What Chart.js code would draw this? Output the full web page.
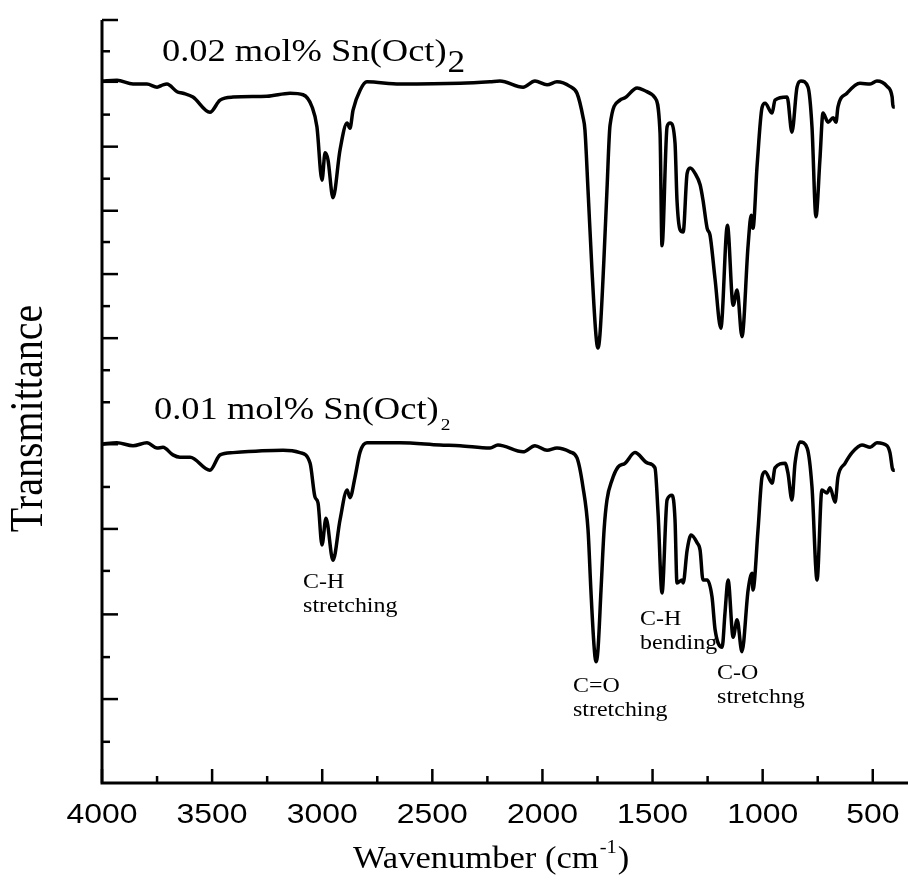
<!DOCTYPE html>
<html>
<head>
<meta charset="utf-8">
<script src="https://cdn.jsdelivr.net/npm/chart.js@4.4.0/dist/chart.umd.min.js"></script>
<style>
  html, body { margin: 0; padding: 0; background: #fff; }
  #wrap { width: 908px; height: 888px; }
</style>
</head>
<body>
<div id="wrap"><canvas id="ftir"></canvas></div>
<script>
// FTIR spectra, wavenumber in cm-1, transmittance in arbitrary (stacked) units 0..100
const wn002 = [4000, 3932, 3859, 3796, 3750, 3723, 3705, 3659, 3632, 3587, 3510, 3464, 3405, 3251, 3146, 3087,
  3046, 3024, 3001, 2987, 2974, 2951, 2919, 2887, 2874, 2860, 2828, 2797, 2647, 2374, 2238, 2193, 2088, 2034,
  1979, 1934, 1875, 1843, 1816, 1807, 1793, 1775, 1757, 1748, 1739, 1721, 1707, 1693, 1648, 1625, 1570, 1525,
  1489, 1466, 1457, 1434, 1420, 1398, 1389, 1375, 1361, 1343, 1329, 1307, 1284, 1271, 1252, 1239, 1216, 1190,
  1160, 1134, 1116, 1094, 1066, 1052, 1044, 1025, 1003, 989, 957, 944, 889, 867, 844, 826, 794, 776, 758, 740,
  726, 703, 680, 667, 658, 617, 558, 512, 481, 435, 412, 408, 400];
const tr002 = [92.0, 92.1, 91.6, 91.6, 91.2, 91.5, 91.6, 90.6, 90.4, 89.9, 87.9, 89.5, 89.9, 90.0, 90.4, 90.2,
  88.6, 86.0, 79.0, 82.6, 81.7, 76.7, 83.0, 86.5, 85.8, 88.2, 90.8, 91.9, 91.6, 91.7, 91.9, 92.0, 91.2, 92.0,
  91.5, 91.9, 91.3, 90.4, 87.3, 85.6, 77.7, 67.2, 58.7, 57.0, 58.7, 68.5, 77.7, 86.2, 89.5, 89.8, 91.1, 90.6,
  89.8, 85.2, 70.4, 86.0, 86.5, 83.9, 76.4, 72.5, 72.2, 79.9, 80.6, 79.9, 78.4, 76.4, 72.7, 71.8, 66.0, 59.6,
  73.1, 62.6, 64.6, 58.5, 70.5, 74.4, 72.7, 81.0, 88.5, 89.1, 87.8, 89.5, 89.9, 85.3, 91.2, 92.0, 91.2, 86.0, 74.2, 81.7,
  87.8, 86.6, 87.2, 86.6, 88.6, 90.4, 91.7, 91.6, 92.0, 91.3, 89.9, 88.6, 88.6];

const wn001 = [4000, 3932, 3859, 3796, 3750, 3723, 3678, 3646, 3600, 3510, 3464, 3405, 3178, 3101, 3055, 3033,
  3019, 3001, 2983, 2951, 2919, 2887, 2874, 2851, 2828, 2797, 2647, 2465, 2374, 2238, 2202, 2088, 2034, 1979,
  1934, 1875, 1843, 1816, 1793, 1780, 1766, 1757, 1748, 1734, 1720, 1707, 1684, 1657, 1625, 1580, 1520, 1489,
  1475, 1457, 1434, 1411, 1398, 1389, 1366, 1361, 1343, 1325, 1298, 1284, 1271, 1252, 1230, 1216, 1184, 1171,
  1157, 1134, 1116, 1094, 1066, 1048, 1044, 1021, 1003, 989, 957, 944, 898, 885, 867, 853, 830, 798, 776, 753,
  731, 708, 694, 671, 658, 626, 594, 549, 512, 481, 435, 422, 408, 400];
const tr001 = [44.4, 44.6, 44.2, 44.6, 43.9, 44.0, 43.0, 42.7, 42.7, 41.0, 43.0, 43.3, 43.6, 43.3, 41.9, 37.5,
  36.7, 31.2, 34.7, 29.2, 34.5, 38.4, 37.4, 40.1, 43.4, 44.6, 44.6, 44.3, 44.2, 43.9, 44.3, 43.4, 44.2, 43.6,
  43.9, 43.4, 42.6, 38.8, 33.2, 25.3, 18.1, 15.9, 17.4, 25.3, 33.2, 37.1, 39.7, 41.4, 41.9, 43.3, 41.9, 41.3,
  35.4, 24.9, 37.1, 37.7, 34.5, 26.2, 26.6, 26.2, 30.5, 32.5, 31.5, 30.5, 26.6, 26.6, 24.4, 20.1, 17.8, 22.3,
  26.6, 19.1, 21.4, 17.2, 25.3, 27.5, 25.3, 33.2, 40.1, 40.8, 39.3, 41.3, 41.9, 40.6, 37.1, 41.9, 44.7, 43.9, 38.8, 26.6,
  38.4, 38.0, 38.7, 36.8, 40.1, 41.9, 43.3, 44.3, 44.0, 44.6, 44.2, 43.3, 41.0, 41.0];

const xMajorTicks = [4000, 3500, 3000, 2500, 2000, 1500, 1000, 500];
const xMinorTicks = [3750, 3250, 2750, 2250, 1750, 1250, 750];
const yMajorTicks = [11.0, 22.1, 33.3, 44.4, 58.3, 66.7, 75.0, 83.4, 91.9, 100];
const yMinorTicks = [5.4, 16.5, 27.8, 38.8, 49.9, 54.1, 62.5, 70.9, 79.2, 87.6, 95.9];

const seriesNames = ['0.02 mol% Sn(Oct)', '0.01 mol% Sn(Oct)'];
const bandNames = [['C-H', 'stretching'], ['C=O', 'stretching'], ['C-H', 'bending'], ['C-O', 'stretchng']];

// where the text goes (wavenumber, transmittance of the first baseline)
const seriesAt = [[3728, 94.6], [3764, 47.7]];
const bandAt = [[3087, 25.6], [1861, 11.9], [1557, 20.7], [1207, 13.6]];

const toPoints = (xs, ys) => xs.map((x, i) => ({ x: x, y: ys[i] }));

const SERIF = '"Liberation Serif", "Times New Roman", serif';
const SANS = '"Liberation Sans", Arial, sans-serif';
const SX = 1.14; // reference text is a bit wide

function putText(ctx, str, px, py, font, align, sx) {
  ctx.save();
  ctx.translate(px, py);
  ctx.scale(sx, 1);
  ctx.font = font;
  ctx.textAlign = align;
  ctx.textBaseline = 'alphabetic';
  ctx.fillText(str, 0, 0);
  const w = ctx.measureText(str).width * sx;
  ctx.restore();
  return w;
}

const decor = {
  id: 'decor',
  afterDraw(chart) {
    const ctx = chart.ctx;
    const a = chart.chartArea;
    const x = chart.scales.x;
    const y = chart.scales.y;
    ctx.save();
    ctx.strokeStyle = '#000';
    ctx.fillStyle = '#000';

    // axes
    ctx.lineWidth = 3;
    ctx.lineJoin = 'miter';
    ctx.beginPath();
    ctx.moveTo(a.left, a.top);
    ctx.lineTo(a.left, a.bottom);
    ctx.lineTo(a.right, a.bottom);
    ctx.stroke();

    // inward ticks
    ctx.lineWidth = 2.5;
    const tick = (px, py, dx, dy) => {
      ctx.beginPath();
      ctx.moveTo(px, py);
      ctx.lineTo(px + dx, py + dy);
      ctx.stroke();
    };
    xMajorTicks.forEach(v => tick(x.getPixelForValue(v), a.bottom, 0, -14));
    xMinorTicks.forEach(v => tick(x.getPixelForValue(v), a.bottom, 0, -7));
    yMajorTicks.forEach(v => tick(a.left, y.getPixelForValue(v), 16, 0));
    yMinorTicks.forEach(v => tick(a.left, y.getPixelForValue(v), 8, 0));

    // tick labels
    xMajorTicks.forEach(v => {
      putText(ctx, String(v), x.getPixelForValue(v), a.bottom + 40, '28px ' + SANS, 'center', SX);
    });

    // axis titles
    const tx = (a.left + a.right) / 2 - 152;
    let w = putText(ctx, 'Wavenumber (cm', tx, 868, '32px ' + SERIF, 'left', 1.08);
    w += putText(ctx, '-1', tx + w + 1, 853, '19px ' + SERIF, 'left', 1.08);
    putText(ctx, ')', tx + w + 2, 868, '32px ' + SERIF, 'left', 1.08);

    ctx.save();
    ctx.translate(a.left - 60, (a.top + a.bottom) / 2 + 17);
    ctx.rotate(-Math.PI / 2);
    ctx.scale(1, SX);
    ctx.font = '40px ' + SERIF;
    ctx.textAlign = 'center';
    ctx.textBaseline = 'alphabetic';
    ctx.fillText('Transmittance', 0, 0);
    ctx.restore();

    // series labels with subscript 2
    const subs = [{ font: '31px ' + SERIF, dy: 11, gap: 1 }, { font: '17px ' + SERIF, dy: 11, gap: 2 }];
    seriesNames.forEach((name, i) => {
      const px = x.getPixelForValue(seriesAt[i][0]);
      const py = y.getPixelForValue(seriesAt[i][1]);
      const wm = putText(ctx, name, px, py, '32px ' + SERIF, 'left', SX);
      putText(ctx, '2', px + wm + subs[i].gap, py + subs[i].dy, subs[i].font, 'left', SX);
    });

    // band assignments
    bandNames.forEach((lines, i) => {
      const px = x.getPixelForValue(bandAt[i][0]);
      const py = y.getPixelForValue(bandAt[i][1]);
      lines.forEach((t, k) => putText(ctx, t, px, py + k * 24, '21px ' + SERIF, 'left', SX));
    });
    ctx.restore();
  }
};

new Chart(document.getElementById('ftir'), {
  type: 'line',
  data: {
    datasets: [
      { label: seriesNames[0] + '2', data: toPoints(wn002, tr002) },
      { label: seriesNames[1] + '2', data: toPoints(wn001, tr001) }
    ]
  },
  options: {
    responsive: true,
    maintainAspectRatio: false,
    animation: false,
    events: [],
    layout: { padding: { top: 20, right: 0, bottom: 0, left: 0 } },
    elements: {
      line: { borderColor: '#000', borderWidth: 3.5, cubicInterpolationMode: 'monotone', fill: false },
      point: { radius: 0 }
    },
    plugins: { legend: { display: false }, tooltip: { enabled: false } },
    scales: {
      x: {
        type: 'linear',
        reverse: true,
        min: 340,
        max: 4000,
        grid: { display: false },
        border: { display: false },
        ticks: { display: false },
        afterFit: s => { s.height = 105; }
      },
      y: {
        min: 0,
        max: 100,
        grid: { display: false },
        border: { display: false },
        ticks: { display: false },
        afterFit: s => { s.width = 102; }
      }
    }
  },
  plugins: [decor]
});
</script>
</body>
</html>
